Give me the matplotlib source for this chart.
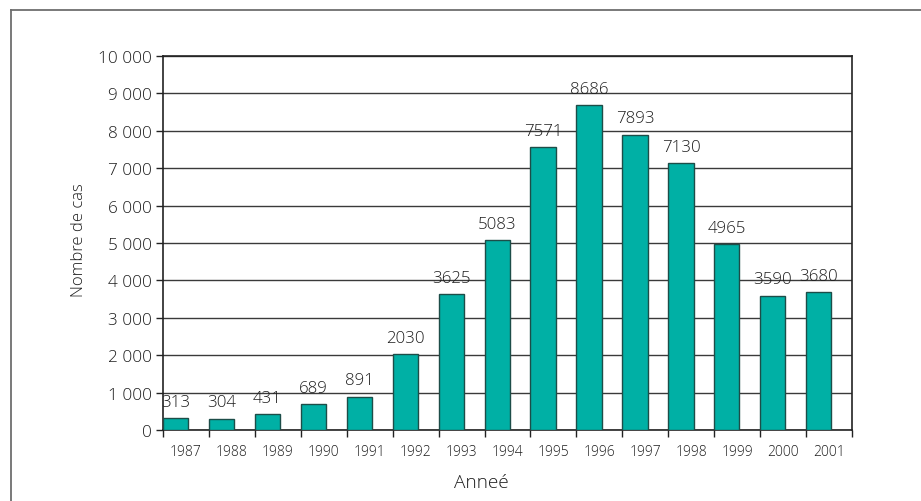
import matplotlib
matplotlib.use("Agg")
import matplotlib.pyplot as plt
import numpy as np

years = ["1987", "1988", "1989", "1990", "1991", "1992", "1993", "1994",
         "1995", "1996", "1997", "1998", "1999", "2000", "2001"]
cases = [313, 304, 431, 689, 891, 2030, 3625, 5083,
         7571, 8686, 7893, 7130, 4965, 3590, 3680]
yticks = [0, 1000, 2000, 3000, 4000, 5000, 6000, 7000, 8000, 9000, 10000]
ytick_labels = ["0", "1 000", "2 000", "3 000", "4 000", "5 000", "6 000",
                "7 000", "8 000", "9 000", "10 000"]

plt.rcParams["font.family"] = ["Open Sans", "DejaVu Sans"]
plt.rcParams["font.weight"] = "light"
text_color = "#1e1e1e"

fig = plt.figure(figsize=(9.21, 5.02), dpi=100)
W, H = 921, 502
ax = fig.add_axes([163 / W, 1 - 431 / H, (852 - 163) / W, (431 - 57) / H])

x = np.arange(len(years))
bar_w = 0.55
ax.bar(x - 0.5, cases, width=bar_w, align="edge",
       color="#00b0a5", edgecolor="#1d4d48", linewidth=1.0, zorder=3)

for xi, v in zip(x, cases):
    ax.annotate(str(v), (xi - 0.5 + bar_w / 2, v), xytext=(0, 6),
                textcoords="offset points", ha="center", va="bottom",
                fontsize=12.2, color=text_color, zorder=4)

ax.set_xlim(-0.5, len(years) - 0.5)
ax.set_ylim(0, 10000)
ax.set_yticks(yticks)
ax.set_yticklabels(ytick_labels)
ax.yaxis.grid(True, color="#3a3a3a", linewidth=1.0, zorder=0)

ax.set_xticks(x)
ax.set_xticklabels(years)
ax.set_xticks(np.arange(len(years) + 1) - 0.5, minor=True)
ax.tick_params(axis="x", which="major", length=0, pad=10, labelsize=10,
               labelcolor=text_color)
ax.tick_params(axis="x", which="minor", length=5, width=1, color="#222222",
               direction="out")
ax.tick_params(axis="y", length=5, width=1, color="#222222", direction="out",
               labelsize=12.3, labelcolor=text_color, pad=3)

for side in ["left", "right", "top", "bottom"]:
    ax.spines[side].set_color("#222222")
    ax.spines[side].set_linewidth(1.2)

fig.text(79 / W, 1 - 240 / H, "Nombre de cas", rotation=90, ha="center",
         va="center", fontsize=12, color=text_color)
fig.text(481 / W, 1 - 488 / H, "Anneé", ha="center", va="baseline",
         fontsize=13.7, color=text_color)

# Outer frame: top and left edges only
fig.add_artist(plt.Line2D([11 / W, 11 / W], [0, 1 - 11 / H],
                          transform=fig.transFigure, color="#6e6e6e", linewidth=1.3))
fig.add_artist(plt.Line2D([11 / W, 1], [1 - 11 / H, 1 - 11 / H],
                          transform=fig.transFigure, color="#6e6e6e", linewidth=1.3))

fig.savefig("out.png", dpi=100, facecolor="white")
